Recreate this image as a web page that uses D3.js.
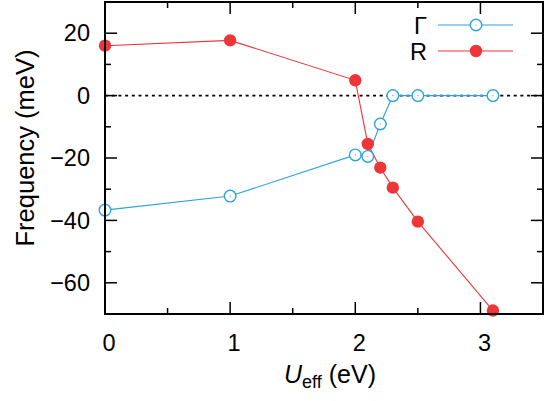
<!DOCTYPE html>
<html>
<head>
<meta charset="utf-8">
<script src="https://cdn.jsdelivr.net/npm/d3@7"></script>
<style>
body { margin: 0; background: #fff; }
svg { font-family: "Liberation Sans", Arial, sans-serif; }
</style>
</head>
<body>
<svg id="chart"></svg>
<script>
// data
const ueff = [0, 1, 2, 2.1, 2.2, 2.3, 2.5, 3.1];
const gammaFreq = [-36.7, -32.2, -19, -19.5, -9.1, 0, 0, 0];
const rFreq = [16, 17.7, 4.9, -15.5, -23.1, -29.5, -40.4, -68.9];
const xTicks = [0, 1, 2, 3];
const yTicks = [-60, -40, -20, 0, 20];
const seriesNames = ['Γ', 'R'];

let width = 545;
let height = 401;
let padLeft = 105, padRight = 543, padTop = 2, padBottom = 314;
const blue = '#2ba3dc';
const red = '#ee3537';

const svg = d3.select('#chart').attr('width', width).attr('height', height);

const xScale = d3.scaleLinear().domain([0, 3.5]).range([padLeft, padRight]);
const yScale = d3.scaleLinear().domain([-70, 30]).range([padBottom, padTop]);

// zero line
svg.append('line')
    .attr('x1', padLeft).attr('x2', padRight)
    .attr('y1', yScale(0)).attr('y2', yScale(0))
    .attr('stroke', '#000').attr('stroke-width', 1.6)
    .attr('stroke-dasharray', '3,3.7');

// ticks on all four sides, pointing inward
const xMinor = d3.range(0, 3.5, 0.5).filter(v => !xTicks.includes(v));
const yMinor = d3.range(-70, 30, 10).filter(v => !yTicks.includes(v));
const tickG = svg.append('g').attr('stroke', '#000').attr('stroke-width', 1.5);
xTicks.concat(xMinor).forEach(v => {
    let len = xTicks.includes(v) ? 12 : 6;
    tickG.append('line').attr('x1', xScale(v)).attr('x2', xScale(v)).attr('y1', padBottom).attr('y2', padBottom - len);
    tickG.append('line').attr('x1', xScale(v)).attr('x2', xScale(v)).attr('y1', padTop).attr('y2', padTop + len);
});
yTicks.concat(yMinor).forEach(v => {
    let len = yTicks.includes(v) ? 12 : 6;
    tickG.append('line').attr('x1', padLeft).attr('x2', padLeft + len).attr('y1', yScale(v)).attr('y2', yScale(v));
    tickG.append('line').attr('x1', padRight).attr('x2', padRight - len).attr('y1', yScale(v)).attr('y2', yScale(v));
});

// tick labels
svg.append('g').selectAll('text').data(xTicks).enter().append('text')
    .attr('x', d => xScale(d) + 4).attr('y', 351)
    .attr('text-anchor', 'middle').attr('font-size', 23.5)
    .text(d => d);
svg.append('g').selectAll('text').data(yTicks).enter().append('text')
    .attr('x', 90).attr('y', d => yScale(d) + 8.2)
    .attr('text-anchor', 'end').attr('font-size', 23.5)
    .text(d => d3.format('d')(d).replace('-', '\u2212'));

// axis labels
const xl = svg.append('text').attr('x', 330).attr('y', 383).attr('text-anchor', 'middle').attr('font-size', 25);
xl.append('tspan').attr('font-style', 'italic').text('U');
xl.append('tspan').attr('font-size', 18).attr('dy', 5).text('eff');
xl.append('tspan').attr('dy', -5).text(' (eV)');

svg.append('text')
    .attr('transform', 'translate(34,148) rotate(-90)')
    .attr('text-anchor', 'middle').attr('font-size', 25.5)
    .text('Frequency (meV)');

// series
const gammaData = ueff.map((u, i) => [u, gammaFreq[i]]);
const rData = ueff.map((u, i) => [u, rFreq[i]]);
const line = d3.line().x(d => xScale(d[0])).y(d => yScale(d[1]));

const plot = svg.append('g');
plot.append('path').datum(gammaData).attr('d', line)
    .attr('fill', 'none').attr('stroke', blue).attr('stroke-width', 1.1);
plot.append('path').datum(rData).attr('d', line)
    .attr('fill', 'none').attr('stroke', red).attr('stroke-width', 1.1);

plot.selectAll('.gpt').data(gammaData).enter().append('circle').attr('class', 'gpt')
    .attr('cx', d => xScale(d[0])).attr('cy', d => yScale(d[1])).attr('r', 5.8)
    .attr('fill', '#fff').attr('stroke', blue).attr('stroke-width', 1.4);
plot.selectAll('.gdot').data(gammaData).enter().append('circle').attr('class', 'gdot')
    .attr('cx', d => xScale(d[0])).attr('cy', d => yScale(d[1])).attr('r', 0.6)
    .attr('fill', blue);
plot.selectAll('.rpt').data(rData).enter().append('circle').attr('class', 'rpt')
    .attr('cx', d => xScale(d[0])).attr('cy', d => yScale(d[1])).attr('r', 6.2)
    .attr('fill', red);

// frame
svg.append('rect')
    .attr('x', padLeft).attr('y', padTop).attr('width', padRight - padLeft).attr('height', padBottom - padTop)
    .attr('fill', 'none').attr('stroke', '#000').attr('stroke-width', 2);

// legend
const legend = svg.append('g');
[blue, red].forEach((c, i) => {
    let ly = 25 + i * 26;
    legend.append('text').attr('x', 427).attr('y', ly + 8.5).attr('text-anchor', 'end')
        .attr('font-size', 23.5).text(seriesNames[i]);
    legend.append('line').attr('x1', 438).attr('x2', 513).attr('y1', ly).attr('y2', ly)
        .attr('stroke', c).attr('stroke-width', 1.1);
    if (i === 0) {
        legend.append('circle').attr('cx', 476).attr('cy', ly).attr('r', 5.8)
            .attr('fill', '#fff').attr('stroke', c).attr('stroke-width', 1.4);
        legend.append('circle').attr('cx', 476).attr('cy', ly).attr('r', 0.6).attr('fill', c);
    } else {
        legend.append('circle').attr('cx', 476).attr('cy', ly).attr('r', 6.2).attr('fill', c);
    }
});
</script>
</body>
</html>
